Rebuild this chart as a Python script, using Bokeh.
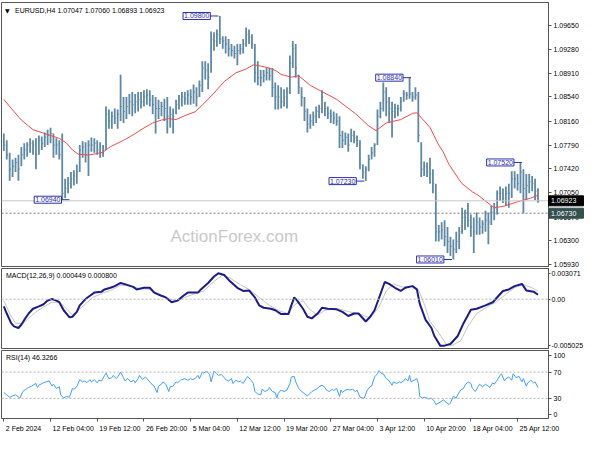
from bokeh.plotting import figure
from bokeh.layouts import column
from bokeh.models import Range1d, FixedTicker, Label, Span
from bokeh.core.properties import value
from bokeh.embed import file_html
from bokeh.resources import INLINE

# ------------------------------------------------------------------ data
symbol = "EURUSD,H4"
last_ohlc = ["1.07047", "1.07060", "1.06893", "1.06923"]

time_tick_index = [0, 32, 64, 96, 128, 160, 192, 224, 256, 288, 320, 352]
time_tick_labels = ["2 Feb 2024", "12 Feb 04:00", "19 Feb 12:00", "26 Feb 20:00",
                    "5 Mar 04:00", "12 Mar 12:00", "19 Mar 20:00", "27 Mar 04:00",
                    "3 Apr 12:00", "10 Apr 20:00", "18 Apr 04:00", "25 Apr 12:00"]

price_ticks = [1.0593, 1.0630, 1.0667, 1.0705, 1.0742, 1.0779,
               1.0816, 1.0854, 1.0891, 1.0928, 1.0965]

bar_step = 2  # each drawn bar = two H4 bars

bar_high = [
    1.0797, 1.07865, 1.0767, 1.07565, 1.07595, 1.0764, 1.0776, 1.0782, 1.07835, 1.07895,
    1.07865, 1.07895, 1.0794, 1.07925, 1.07985, 1.0803, 1.0806, 1.0797, 1.07895, 1.07865,
    1.0797, 1.07265, 1.07295, 1.0737, 1.0740, 1.0749, 1.0779, 1.0785, 1.07835, 1.07865,
    1.0791, 1.07895, 1.07865, 1.07835, 1.0779, 1.0839, 1.08345, 1.08315, 1.0836, 1.08345,
    1.08885, 1.0854, 1.0854, 1.08585, 1.08615, 1.08585, 1.08615, 1.08615, 1.08645, 1.0866,
    1.08645, 1.0857, 1.0854, 1.08495, 1.08465, 1.0851, 1.0854, 1.0839, 1.0836, 1.08495,
    1.0857, 1.08615, 1.08615, 1.08645, 1.0866, 1.08735, 1.0869, 1.08795, 1.09095, 1.09095,
    1.09065, 1.0956, 1.09545, 1.0959, 1.0980, 1.09485, 1.09485, 1.0944, 1.09365, 1.09335,
    1.09365, 1.09365, 1.0944, 1.0962, 1.0959, 1.09515, 1.09365, 1.09095, 1.0896, 1.0896,
    1.0899, 1.0899, 1.0899, 1.08765, 1.0872, 1.0869, 1.0866, 1.0869, 1.09185, 1.0941,
    1.09365, 1.08885, 1.0869, 1.0854, 1.0836, 1.0827, 1.08315, 1.0839, 1.0842, 1.08645,
    1.08465, 1.0839, 1.08345, 1.08315, 1.08285, 1.0824, 1.08015, 1.07985, 1.0797, 1.08045,
    1.08015, 1.0794, 1.07865, 1.0749, 1.0746, 1.0764, 1.0776, 1.0782, 1.08345, 1.08465,
    1.08765, 1.0869, 1.0854, 1.08465, 1.08435, 1.0842, 1.0854, 1.08645, 1.08615, 1.0884,
    1.08615, 1.0869, 1.08615, 1.07835, 1.07535, 1.0752, 1.07595, 1.07415, 1.0719, 1.06545,
    1.0659, 1.0662, 1.06515, 1.06365, 1.0632, 1.0644, 1.06515, 1.06815, 1.06785, 1.0689,
    1.0671, 1.06665, 1.0674, 1.06665, 1.0662, 1.0677, 1.0674, 1.06845, 1.0689, 1.07085,
    1.07145, 1.07115, 1.07145, 1.0719, 1.07385, 1.07385, 1.0734, 1.0752, 1.07415, 1.0734,
    1.0734, 1.0731, 1.07265, 1.0712]

bar_low = [
    1.0770, 1.07565, 1.07235, 1.07295, 1.0737, 1.07235, 1.0746, 1.07565, 1.0761, 1.0767,
    1.0764, 1.07415, 1.0764, 1.07715, 1.0776, 1.0779, 1.0782, 1.07595, 1.0764, 1.07565,
    1.0694, 1.06965, 1.0704, 1.07115, 1.0716, 1.0719, 1.0737, 1.07595, 1.0752, 1.0731,
    1.07685, 1.0767, 1.0764, 1.07595, 1.0761, 1.07715, 1.08045, 1.08045, 1.0812, 1.08045,
    1.08165, 1.08135, 1.08195, 1.0827, 1.0824, 1.08285, 1.08315, 1.0836, 1.0839, 1.0842,
    1.0839, 1.0827, 1.0797, 1.08195, 1.0824, 1.08165, 1.0797, 1.0806, 1.0797, 1.0827,
    1.08345, 1.0839, 1.0842, 1.0842, 1.0842, 1.08435, 1.0839, 1.0854, 1.08615, 1.0881,
    1.0866, 1.08915, 1.0926, 1.0932, 1.09365, 1.0929, 1.09215, 1.0917, 1.0917, 1.0914,
    1.09035, 1.0920, 1.09215, 1.0932, 1.09365, 1.0929, 1.08765, 1.0872, 1.08705, 1.08765,
    1.08795, 1.08795, 1.0854, 1.08345, 1.08345, 1.0836, 1.0839, 1.0836, 1.08585, 1.0899,
    1.0884, 1.08585, 1.0839, 1.08165, 1.07985, 1.08045, 1.0809, 1.08135, 1.0821, 1.08285,
    1.0824, 1.08195, 1.08135, 1.0812, 1.0809, 1.07745, 1.07745, 1.0779, 1.07685, 1.07835,
    1.0782, 1.0776, 1.07415, 1.07265, 1.0723, 1.07385, 1.07565, 1.0761, 1.0779, 1.0821,
    1.08315, 1.0824, 1.08135, 1.0791, 1.0821, 1.0824, 1.08315, 1.08465, 1.08495, 1.0851,
    1.08465, 1.08495, 1.07835, 1.07295, 1.0731, 1.07295, 1.0719, 1.0704, 1.0629, 1.0629,
    1.0632, 1.06215, 1.0611, 1.06065, 1.0601, 1.0611, 1.0617, 1.0641, 1.0647, 1.06515,
    1.06365, 1.0611, 1.06395, 1.06395, 1.0641, 1.0644, 1.06245, 1.06545, 1.0662, 1.0671,
    1.0692, 1.0689, 1.06845, 1.06815, 1.06965, 1.07115, 1.07085, 1.0704, 1.0673, 1.06935,
    1.0704, 1.0707, 1.06935, 1.06893]

bar_close = [
    1.0779, 1.0764, 1.07415, 1.0746, 1.0752, 1.07415, 1.0764, 1.07715, 1.0779, 1.0782,
    1.0779, 1.0764, 1.07865, 1.0782, 1.0791, 1.0794, 1.0797, 1.0779, 1.0779, 1.0764,
    1.0704, 1.07115, 1.0719, 1.07265, 1.0731, 1.0737, 1.07715, 1.0776, 1.0764, 1.0779,
    1.0779, 1.0782, 1.07715, 1.0767, 1.07715, 1.0827, 1.08165, 1.0824, 1.0821, 1.0827,
    1.0839, 1.08315, 1.0839, 1.08465, 1.0842, 1.08465, 1.08495, 1.08465, 1.0854, 1.0857,
    1.08495, 1.0842, 1.0836, 1.0836, 1.0839, 1.0836, 1.0824, 1.0827, 1.0824, 1.0842,
    1.08495, 1.0854, 1.0851, 1.0857, 1.0854, 1.08615, 1.0854, 1.0872, 1.0899, 1.0896,
    1.0884, 1.0944, 1.0941, 1.09515, 1.0944, 1.0941, 1.09365, 1.0929, 1.0926, 1.09215,
    1.0926, 1.0929, 1.09365, 1.09515, 1.0947, 1.09365, 1.08915, 1.0884, 1.0884, 1.0887,
    1.08915, 1.0887, 1.0869, 1.0854, 1.0854, 1.08465, 1.0854, 1.08615, 1.09065, 1.0929,
    1.0899, 1.0869, 1.0854, 1.08315, 1.0812, 1.08165, 1.0824, 1.08315, 1.0836, 1.0854,
    1.0836, 1.08285, 1.0824, 1.0821, 1.08165, 1.0794, 1.07865, 1.0791, 1.0779, 1.0794,
    1.0791, 1.07865, 1.0749, 1.0737, 1.07415, 1.07565, 1.0767, 1.0779, 1.0824, 1.0836,
    1.08615, 1.08465, 1.0836, 1.08315, 1.0836, 1.0836, 1.08465, 1.08585, 1.0857, 1.08585,
    1.0854, 1.0857, 1.0794, 1.07415, 1.0746, 1.0737, 1.0734, 1.0719, 1.0644, 1.0644,
    1.0647, 1.06365, 1.0629, 1.06215, 1.0617, 1.0629, 1.0644, 1.06665, 1.06665, 1.0662,
    1.06515, 1.0644, 1.0659, 1.06515, 1.0656, 1.0662, 1.0659, 1.0674, 1.06815, 1.0704,
    1.0704, 1.06965, 1.0704, 1.0704, 1.07265, 1.07265, 1.0719, 1.0737, 1.07115, 1.0716,
    1.0722, 1.0719, 1.0707, 1.06923]

ma_points = [(0, 1.0850), (5, 1.08365), (12, 1.0818), (20, 1.0803), (30, 1.07955),
             (38, 1.07895), (43, 1.0782), (47, 1.07715), (51, 1.07648), (58, 1.07636),
             (65, 1.07663), (68, 1.07681), (73, 1.07765), (82, 1.07865), (89, 1.07955),
             (94, 1.0803), (102, 1.08135), (108, 1.0818), (113, 1.08203), (118, 1.08188),
             (124, 1.08248), (131, 1.08308), (137, 1.08435), (144, 1.0860), (151, 1.0878),
             (159, 1.08915), (166, 1.08975), (171, 1.0904), (176, 1.0902), (182, 1.0899),
             (187, 1.0894), (190, 1.0889), (197, 1.08848), (202, 1.0887), (210, 1.0872),
             (218, 1.08623), (228, 1.08503), (241, 1.08278), (250, 1.0809), (255, 1.08015),
             (262, 1.08135), (272, 1.08188), (280, 1.08285), (283, 1.08293), (292, 1.08065),
             (298, 1.0779), (301, 1.07685), (305, 1.0749), (312, 1.0725), (314, 1.0719),
             (321, 1.07063), (325, 1.0701), (330, 1.0692), (336, 1.06815), (343, 1.06841),
             (351, 1.06901), (361, 1.06965), (366, 1.0701)]

marker_price = [1.0980, 1.0694, 1.0884, 1.0723, 1.0601, 1.0752]
marker_index = [147, 45, 279, 247, 307, 355]

current_price = 1.06923
level_price = 1.0673

macd_max = 0.003071
macd_min = -0.005025
macd_last = "0.000449"
signal_last = "0.000800"

macd_points = [(0, -0.000717), (2, -0.00143), (5, -0.002394), (7, -0.002712), (10, -0.002876),
               (12, -0.002548), (14, -0.002066), (17, -0.00143), (20, -0.000948), (24, -0.000717),
               (27, -0.000524), (30, -0.000138), (33, 0.000016), (36, -0.000138), (38, -0.000302),
               (41, -0.001102), (45, -0.001815), (47, -0.001748), (50, -0.001266), (52, -0.00062),
               (56, 0.000016), (59, 0.000343), (62, 0.000661), (67, 0.000758), (69, 0.00098),
               (73, 0.001143), (76, 0.001307), (80, 0.001625), (84, 0.001461), (89, 0.001211),
               (91, 0.00098), (96, 0.001143), (100, 0.001143), (103, 0.000661), (108, 0.000343),
               (111, 0.00018), (115, -0.000302), (119, -0.000138), (123, 0.000343), (126, 0.000661),
               (133, 0.000661), (135, 0.00098), (140, 0.001625), (144, 0.002271), (147, 0.002589),
               (151, 0.002425), (155, 0.001789), (160, 0.001143), (164, 0.000825), (168, 0.000883),
               (172, 0.00018), (175, -0.00062), (178, -0.000852), (183, -0.000948), (186, -0.001102),
               (190, -0.001488), (195, -0.001488), (197, -0.00062), (199, 0.00018), (201, -0.000138),
               (205, -0.000948), (208, -0.001748), (211, -0.001912), (215, -0.00143), (218, -0.000852),
               (222, -0.000948), (228, -0.001006), (232, -0.001266), (236, -0.00168), (240, -0.00143),
               (243, -0.00143), (248, -0.00223), (251, -0.001748), (254, -0.001102), (258, 0.000498),
               (261, 0.001722), (264, 0.001529), (268, 0.001143), (272, 0.000825), (275, 0.001143),
               (280, 0.001307), (283, 0.00098), (285, -0.000466), (289, -0.002066), (293, -0.002876),
               (295, -0.003676), (299, -0.004639), (302, -0.004639), (306, -0.004476), (311, -0.003676),
               (315, -0.002394), (320, -0.001044), (324, -0.000948), (330, -0.00062), (335, -0.000302),
               (339, 0.000343), (342, 0.000825), (346, 0.00098), (350, 0.001307), (355, 0.001529),
               (358, 0.000883), (363, 0.000758), (366, 0.000449)]

signal_points = [(0, -0.000138), (4, -0.00143), (8, -0.002394), (13, -0.002452), (17, -0.001912),
                 (22, -0.001266), (27, -0.000784), (33, -0.000302), (38, -0.000302), (43, -0.000948),
                 (47, -0.001584), (51, -0.001102), (56, -0.000466), (61, 0.00018), (67, 0.000565),
                 (73, 0.000883), (80, 0.001404), (87, 0.001307), (93, 0.001076), (100, 0.00098),
                 (107, 0.000498), (113, 0.000016), (119, -0.000138), (124, 0.00018), (131, 0.000565),
                 (137, 0.000825), (144, 0.001789), (150, 0.002425), (155, 0.002107), (162, 0.001461),
                 (168, 0.00098), (175, 0.00018), (182, -0.00062), (188, -0.001102), (194, -0.00143),
                 (200, -0.000466), (205, -0.000138), (209, -0.000948), (215, -0.001584), (220, -0.001102),
                 (229, -0.000948), (237, -0.001266), (245, -0.001526), (251, -0.001912), (257, -0.000784),
                 (262, 0.000825), (267, 0.001529), (273, 0.001211), (280, 0.001307), (284, 0.00098),
                 (288, -0.000466), (292, -0.00223), (298, -0.003358), (303, -0.004476), (307, -0.004639),
                 (313, -0.004158), (318, -0.002712), (324, -0.00143), (331, -0.000784), (337, -0.000302),
                 (344, 0.000498), (350, 0.001143), (356, 0.001461), (362, 0.001143), (366, 0.0008)]

rsi_last = "46.3266"
rsi_levels = [70, 30]
rsi_points = [(0, 38.9), (2, 35.4), (4, 31.5), (6, 33.9), (8, 35.4), (11, 30.4), (13, 40.4),
              (15, 43.8), (17, 46.7), (19, 48.7), (22, 52.7), (23, 46.7), (24, 50.1), (27, 53.7),
              (29, 55.2), (31, 56.7), (33, 48.7), (34, 51.6), (36, 45.3), (38, 47.8), (39, 35.4),
              (41, 30.4), (43, 33.0), (45, 31.5), (47, 45.3), (48, 43.8), (50, 47.8), (52, 58.6),
              (54, 55.2), (55, 56.7), (57, 54.1), (59, 58.6), (60, 55.2), (62, 58.6), (64, 53.7),
              (65, 57.6), (67, 56.7), (69, 65.0), (70, 68.5), (72, 60.1), (74, 61.6), (75, 65.0),
              (77, 60.1), (78, 62.6), (80, 70.0), (82, 61.6), (83, 56.7), (85, 60.1), (87, 55.2),
              (89, 57.6), (90, 53.7), (92, 60.1), (93, 65.0), (95, 58.6), (97, 62.6), (98, 60.1),
              (100, 55.2), (102, 50.1), (103, 48.7), (105, 38.9), (106, 48.7), (108, 51.6),
              (109, 55.2), (111, 51.6), (113, 40.4), (114, 47.8), (116, 48.7), (118, 55.2),
              (119, 53.7), (121, 57.6), (122, 58.6), (124, 60.1), (126, 57.6), (128, 60.1),
              (129, 58.6), (131, 60.1), (133, 65.0), (134, 60.1), (136, 70.0), (137, 68.5),
              (139, 71.5), (141, 66.5), (142, 55.2), (144, 71.5), (146, 67.5), (147, 65.0),
              (149, 66.5), (151, 61.6), (152, 58.6), (154, 56.7), (156, 60.1), (157, 52.7),
              (159, 57.6), (161, 55.2), (162, 56.7), (164, 52.7), (166, 60.1), (167, 63.5),
              (169, 58.6), (171, 52.7), (172, 40.4), (174, 36.8), (176, 35.4), (177, 43.8),
              (179, 40.4), (181, 42.7), (182, 46.7), (184, 40.4), (186, 38.9), (187, 30.4),
              (188, 37.8), (190, 42.7), (192, 40.4), (194, 42.7), (196, 52.7), (197, 62.6),
              (199, 63.5), (200, 55.2), (202, 45.3), (203, 42.7), (205, 38.9), (207, 35.4),
              (208, 33.9), (210, 37.8), (211, 40.4), (213, 42.7), (215, 45.3), (216, 47.8),
              (218, 50.1), (220, 46.7), (221, 42.7), (223, 40.4), (225, 43.8), (226, 41.9),
              (228, 45.3), (230, 33.0), (231, 42.7), (232, 38.9), (234, 42.7), (236, 43.8),
              (237, 42.7), (239, 43.8), (241, 40.4), (242, 42.7), (244, 31.9), (246, 30.4),
              (247, 30.4), (249, 42.7), (251, 47.8), (252, 48.7), (254, 62.6), (256, 67.5),
              (257, 72.4), (259, 67.5), (260, 67.5), (262, 60.1), (264, 56.7), (266, 50.1),
              (267, 55.2), (269, 52.7), (271, 55.2), (272, 53.7), (274, 56.7), (275, 60.1),
              (277, 56.7), (278, 65.0), (279, 55.2), (281, 57.6), (283, 60.1), (284, 52.7),
              (285, 33.0), (287, 30.4), (288, 31.9), (290, 30.4), (291, 29.0), (293, 30.4),
              (295, 25.6), (296, 20.5), (298, 23.0), (300, 25.6), (301, 27.9), (303, 24.1),
              (305, 20.5), (306, 23.0), (308, 33.0), (310, 30.4), (311, 35.4), (313, 42.7),
              (315, 45.3), (316, 50.1), (318, 55.2), (320, 52.7), (321, 45.3), (323, 40.4),
              (325, 47.8), (326, 51.6), (328, 47.8), (330, 51.6), (331, 50.1), (333, 46.7),
              (335, 53.7), (336, 51.6), (338, 57.6), (340, 65.0), (341, 67.5), (343, 56.7),
              (344, 60.1), (346, 62.6), (348, 57.6), (349, 67.5), (351, 61.6), (353, 63.5),
              (355, 55.2), (356, 60.1), (358, 48.7), (359, 53.7), (361, 57.6), (363, 53.7),
              (364, 55.2), (366, 46.3)]

# ------------------------------------------------------------------ style / layout
FONT = "Liberation Sans"
BAR = "#5f88a3"
MA = "#ee4c4c"
MARK = "#2e2eb0"
FRAME = "#555555"

FRAME_W = 547
MAIN_H = 265
X0, X1 = -1.6, 373.2
Y0, Y1 = 1.05885, 1.1001
PXB = FRAME_W / (X1 - X0)
xr = Range1d(X0, X1)


def base(fig):
    fig.xgrid.grid_line_color = None
    fig.ygrid.grid_line_color = None
    fig.outline_line_color = FRAME
    fig.outline_line_width = 1
    fig.background_fill_color = "white"
    fig.border_fill_color = "white"
    fig.min_border_left = 1
    fig.min_border_right = 36


def style_y(ax, tick_out=3):
    ax.major_label_text_font = FONT
    ax.major_label_text_font_size = "7px"
    ax.major_label_text_color = "#000000"
    ax.axis_line_color = FRAME
    ax.major_tick_line_color = FRAME
    ax.major_tick_out = tick_out
    ax.major_tick_in = 0
    ax.minor_tick_line_color = None
    ax.major_label_standoff = 2


def text_label(fig, x, y, text, size="7px", color="#000000", font=FONT, **kw):
    fig.add_layout(Label(x=x, y=y, text=text, text_font=font, text_font_size=size,
                         text_color=color, text_baseline="middle", **kw))


# ---------------- main price panel
p = figure(x_range=xr, y_range=Range1d(Y0, Y1), frame_width=FRAME_W,
           frame_height=MAIN_H, output_backend="svg", toolbar_location=None,
           y_axis_location="right", x_axis_location=None,
           min_border_top=2, min_border_bottom=0)
base(p)
style_y(p.yaxis[0])
p.yaxis.ticker = FixedTicker(ticks=price_ticks)
p.yaxis.major_label_overrides = {t: f"{t:.5f}" for t in price_ticks}

# watermark
p.add_layout(Label(x=X0 + 169 / PXB, y=1.06365, text="ActionForex.com",
                   text_font=FONT, text_font_size="17px", text_color="#c9c9c9",
                   text_baseline="middle", level="underlay"))

p.add_layout(Span(location=current_price, dimension="width", line_color="#c6c6c6", line_width=1))
p.add_layout(Span(location=level_price, dimension="width", line_color="#7a7a7a",
                  line_width=1, line_dash="2 2"))

bar_x = list(range(0, bar_step * len(bar_close), bar_step))
p.segment(bar_x, bar_low, bar_x, bar_high, line_color=BAR, line_width=1.8)
p.segment(bar_x, bar_close, [x + 0.9 for x in bar_x], bar_close, line_color=BAR, line_width=1)

ma_x, ma_y = zip(*ma_points)
p.line(list(ma_x), list(ma_y), line_color=MA, line_width=1)

for price, idx in zip(marker_price, marker_index):
    xs = idx - 8 / PXB
    p.segment([xs], [price], [idx], [price], line_color=MARK, line_width=1)
    p.add_layout(Label(x=xs, y=price, text=f"{price:.5f}", text_align="right",
                       text_baseline="middle", text_font=FONT, text_font_size="7px",
                       text_color=MARK, border_line_color=MARK, border_line_width=1,
                       background_fill_color="white", padding=1))

# header
text_label(p, X0 + 3.5 / PXB, 1.0989, "\u25BC", size="6px", font="DejaVu Sans")
text_label(p, X0 + 13.5 / PXB, 1.0989, symbol + "  " + " ".join(last_ohlc))

# price boxes on the axis, just right of the frame (drawn at overlay level)
box_price = [current_price, level_price]
box_text = [last_ohlc[3], f"{level_price:.5f}"]
box_color = ["#000000", "#34504f"]
p.rect(x=[X1 + 17.5 / PXB] * 2, y=box_price, width=35, height=10,
       width_units="screen", height_units="screen", fill_color=box_color,
       line_color=box_color, level="overlay")
p.text(x=[X1 + 2.5 / PXB] * 2, y=box_price, text=box_text, text_color="white",
       text_font=value(FONT), text_font_size="7px", text_baseline="middle",
       level="overlay")

# ---------------- MACD panel
m = figure(x_range=xr, y_range=Range1d(macd_min, macd_max), frame_width=FRAME_W,
           frame_height=81, output_backend="svg", toolbar_location=None,
           y_axis_location="right", x_axis_location=None,
           min_border_top=1, min_border_bottom=0)
base(m)
style_y(m.yaxis[0], tick_out=2)
m.yaxis.major_label_standoff = 1
mt = [0.00254, 0.0, -0.004665]
m.yaxis.ticker = FixedTicker(ticks=mt)
m.yaxis.major_label_overrides = {mt[0]: f"{macd_max:.6f}", mt[1]: "0.00", mt[2]: f"{macd_min:.6f}"}
m.add_layout(Span(location=0, dimension="width", line_color="#b4b4b4", line_width=1, line_dash="2 2"))
sx, sy = zip(*signal_points)
m.line(list(sx), list(sy), line_color="#c4c4c4", line_width=1)
mx, my = zip(*macd_points)
m.line(list(mx), list(my), line_color="#1b1b8f", line_width=2)
text_label(m, X0 + 4.5 / PXB, macd_max - 6.5 * (macd_max - macd_min) / 81,
           f"MACD(12,26,9) {macd_last} {signal_last}")

# ---------------- RSI panel
r = figure(x_range=xr, y_range=Range1d(-0.7, 103), frame_width=FRAME_W,
           frame_height=68, output_backend="svg", toolbar_location=None,
           y_axis_location="right", x_axis_location="below",
           min_border_top=1, min_border_bottom=16)
base(r)
style_y(r.yaxis[0])
rt = [95.0, 70.0, 30.0, 5.7]
r.yaxis.ticker = FixedTicker(ticks=rt)
r.yaxis.major_label_overrides = {95.0: "100", 70.0: "70", 30.0: "30", 5.7: "0"}
for lv in rsi_levels:
    r.add_layout(Span(location=lv, dimension="width", line_color="#b4b4b4",
                      line_width=1, line_dash="2 2"))
rx, ry = zip(*rsi_points)
r.line(list(rx), list(ry), line_color="#3f9dff", line_width=1)
text_label(r, X0 + 4.5 / PXB, 103 - 7 * 103.7 / 68, f"RSI(14) {rsi_last}")

# time axis: tick marks at the bar positions, labels starting to the right of them
cw = {" ": 0.278, ":": 0.278, "F": 0.611, "M": 0.833, "A": 0.667,
      "e": 0.556, "b": 0.556, "a": 0.556, "r": 0.333, "p": 0.556}


def tw(s, size=7):
    return sum(cw.get(c, 0.556) for c in s) * size


centers = [t + (tw(s) / 2 + 2) / PXB for t, s in zip(time_tick_index, time_tick_labels)]
xa = r.xaxis[0]
xa.ticker = FixedTicker(ticks=centers, minor_ticks=time_tick_index)
xa.major_label_overrides = {c: s for c, s in zip(centers, time_tick_labels)}
xa.major_label_text_font = FONT
xa.major_label_text_font_size = "7px"
xa.major_label_text_color = "#000000"
xa.axis_line_color = None
xa.major_tick_line_color = None
xa.major_tick_out = 0
xa.major_tick_in = 0
xa.minor_tick_line_color = FRAME
xa.minor_tick_out = 3
xa.minor_tick_in = 0
xa.major_label_standoff = 3

layout = column(p, m, r)
open("out.html", "w").write(file_html(layout, INLINE))
